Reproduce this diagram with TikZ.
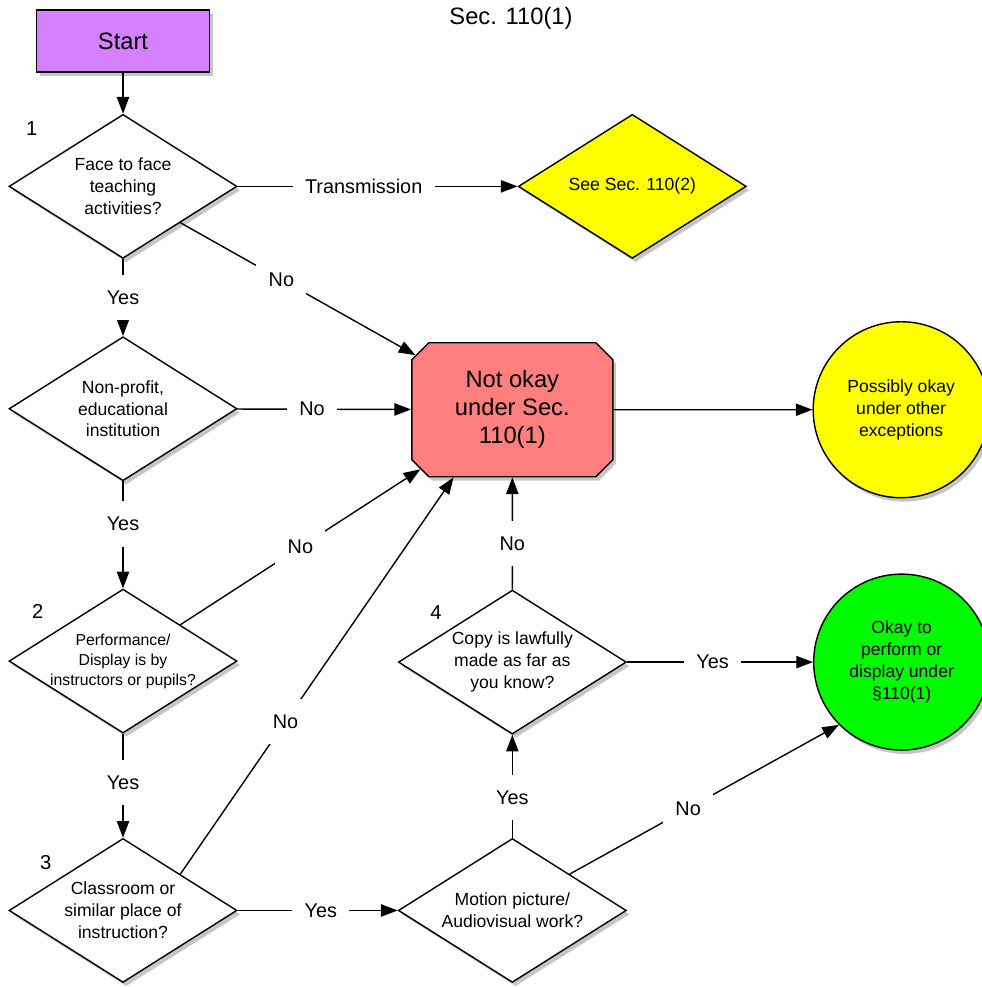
\documentclass[tikz,border=0pt]{standalone}
\usepackage{fontspec}
\setmainfont{Liberation Sans}
\usepackage{tikz}
\usetikzlibrary{arrows.meta,positioning,shapes.geometric,shapes.misc,shadows,calc}
\definecolor{startpurple}{RGB}{213,128,255}
\definecolor{notokred}{RGB}{255,127,127}
\definecolor{okgreen}{RGB}{0,250,0}
\definecolor{maybeyellow}{RGB}{255,255,0}

\begin{document}
\begin{tikzpicture}[x=0.02cm,y=-0.02cm,every path/.style={line width=0.8pt},
    >={Triangle[length=9.5pt,width=7pt]}]
  \tikzstyle{softshadow} = [drop shadow={shadow xshift=1.8pt,shadow yshift=-2.2pt,opacity=.45}];
  \tikzstyle{question} = [diamond,draw,fill=white,softshadow,aspect=1.58,inner sep=0pt,
    minimum width=4.56cm,minimum height=2.88cm,align=center,font=\fontsize{10}{12.5}\selectfont];
  \tikzstyle{outcome} = [circle,draw,softshadow,minimum size=3.52cm,inner sep=0pt,
    align=center,font=\fontsize{10}{12.5}\selectfont];
  \tikzstyle{lbl} = [fill=white,inner xsep=7pt,inner ysep=9pt,font=\fontsize{11.3}{13}\selectfont];
  \tikzstyle{num} = [font=\fontsize{11.5}{13}\selectfont];
  \useasboundingbox (0,0) rectangle (982,987);
  \node[font=\fontsize{13.5}{16}\selectfont] (title) at (511,18) {Sec. 110(1)};
  \node[rectangle,draw,fill=startpurple,softshadow,minimum width=3.46cm,minimum height=1.24cm,
    font=\fontsize{13.5}{16}\selectfont] (start) at (123,41) {Start};
  \node[question,below=.82cm of start] (face) {Face to face\\teaching\\activities?};
  \node[question,below=1.54cm of face] (nonprofit) {Non-profit,\\educational\\institution};
  \node[question,below=2.14cm of nonprofit,inner xsep=-3pt,font=\fontsize{9}{11.3}\selectfont]
    (perf) {Performance/\\Display is by\\instructors or pupils?};
  \node[question,below=2.08cm of perf] (classroom) {Classroom or\\similar place of\\instruction?};
  \node[question,right=3.2cm of classroom] (motion) {Motion picture/\\Audiovisual work?};
  \node[question,above=2.06cm of motion] (lawful) {Copy is lawfully\\made as far as\\you know?};
  \node[chamfered rectangle,draw,fill=notokred,softshadow,chamfered rectangle xsep=0.17cm,
    chamfered rectangle ysep=0.17cm,minimum width=4.02cm,minimum height=2.68cm,align=center,
    font=\fontsize{13.5}{16}\selectfont,above=2.24cm of lawful] (notok) {Not okay\\under Sec.\\110(1)};
  \node[question,fill=maybeyellow,right=5.6cm of face] (see) {See Sec. 110(2)};
  \node[outcome,fill=maybeyellow,right=3.98cm of notok] (maybe) {Possibly okay\\under other\\exceptions};
  \node[outcome,fill=okgreen,right=3.72cm of lawful] (okay) {Okay to\\perform or\\display under\\§110(1)};
  % question numbers
  \node[num] (n1) at ($(face.north west)+(-34,-21)$) {1};
  \node[num] (n2) at ($(perf.north west)+(-28,-13)$) {2};
  \node[num] (n3) at ($(classroom.north west)+(-20,-12)$) {3};
  \node[num] (n4) at ($(lawful.north west)+(-19,-13)$) {4};
  % connectors
  \draw[->] (start) -- (face);
  \draw[->] (face) -- node[lbl,pos=.45] {Transmission} (see);
  \draw[->] (face.south east) -- node[lbl,pos=.43] {No} (notok);
  \draw[->] (face) -- node[lbl,pos=.5] {Yes} (nonprofit);
  \draw[->] (nonprofit) -- node[lbl,pos=.43] {No} (notok);
  \draw[->] (nonprofit) -- node[lbl,pos=.4] {Yes} (perf);
  \draw[->] (perf.north east) -- node[lbl,pos=.5] {No} (notok);
  \draw[->] (perf) -- node[lbl,pos=.47] {Yes} (classroom);
  \draw[->] (classroom.north east) -- node[lbl,pos=.385] {No} (notok.229);
  \draw[->] (classroom) -- node[lbl,pos=.52] {Yes} (motion);
  \draw[->] (motion) -- node[lbl,pos=.39] {Yes} (lawful);
  \draw[->] (motion.north east) -- node[lbl,pos=.44] {No} (okay.225);
  \draw[->] (lawful) -- node[lbl,pos=.41] {No} (notok);
  \draw[->] (lawful) -- node[lbl,pos=.46] {Yes} (okay);
  \draw[->] (notok) -- (maybe);
\end{tikzpicture}
\end{document}
